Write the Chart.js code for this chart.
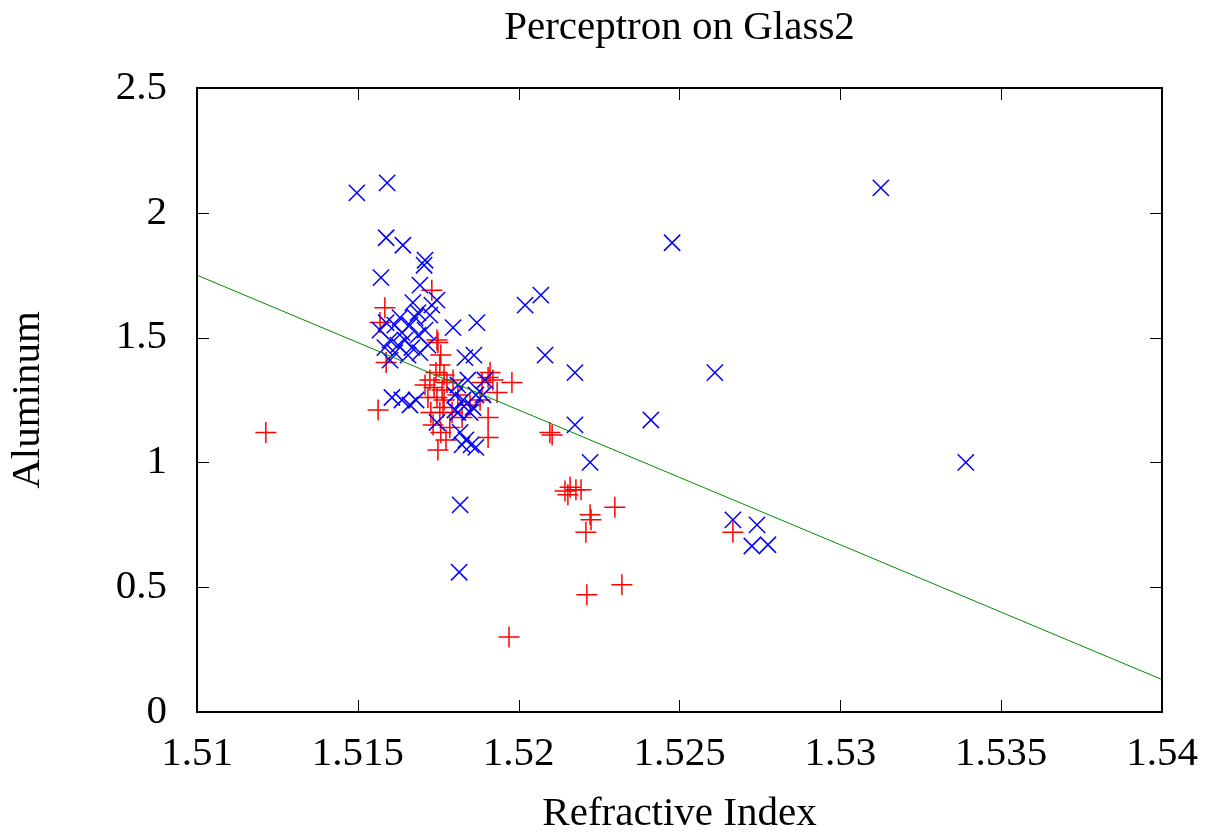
<!DOCTYPE html>
<html>
<head>
<meta charset="utf-8">
<style>
  html, body { margin: 0; padding: 0; background: #ffffff; }
  #wrap { width: 1211px; height: 833px; }
</style>
<script src="https://cdn.jsdelivr.net/npm/chart.js@4/dist/chart.umd.min.js"></script>
</head>
<body>
<div id="wrap"><canvas id="c" width="1211" height="833"></canvas></div>
<script>
// ---- Data ----
const chartTitle = 'Perceptron on Glass2';
const xAxisTitle = 'Refractive Index';
const yAxisTitle = 'Aluminum';

const xTickValues = [1.51, 1.515, 1.52, 1.525, 1.53, 1.535, 1.54];
const xTickLabels = ['1.51', '1.515', '1.52', '1.525', '1.53', '1.535', '1.54'];
const yTickValues = [0, 0.5, 1, 1.5, 2, 2.5];
const yTickLabels = ['0', '0.5', '1', '1.5', '2', '2.5'];

// Blue "x" class
const blueX = [
  1.51497, 1.51591, 1.51588, 1.51640, 1.51709, 1.51706, 1.51572, 1.51693, 1.51671, 1.51730,
  1.51687, 1.52020, 1.52069, 1.52082, 1.52175, 1.52175, 1.52222, 1.52477, 1.52411, 1.52610,
  1.52666, 1.52741, 1.52725, 1.52775, 1.53126, 1.53390, 1.51818, 1.51815, 1.51796, 1.51870,
  1.51833, 1.51861, 1.51606, 1.51637, 1.51662, 1.51681,
  1.51569, 1.51588, 1.51600, 1.51615, 1.51625, 1.51637, 1.51647, 1.51662, 1.51668, 1.51687,
  1.51709, 1.51615, 1.51584, 1.51656, 1.51693, 1.51724, 1.51746, 1.51631, 1.51678, 1.51718,
  1.51600,
  1.51811, 1.51842, 1.51867, 1.51827, 1.51802, 1.51849, 1.51818, 1.51836, 1.51852, 1.51824,
  1.51867, 1.51889, 1.51802, 1.51895, 1.51746, 1.51811, 1.51858
];
const blueY = [
  2.08, 2.12, 1.90, 1.87, 1.81, 1.79, 1.74, 1.71, 1.64, 1.63,
  1.60, 1.63, 1.67, 1.43, 1.36, 1.15, 1.00, 1.88, 1.17, 1.36,
  0.77, 0.75, 0.665, 0.67, 2.10, 1.00, 0.83, 0.56, 1.54, 1.56,
  1.42, 1.43, 1.26, 1.25, 1.23, 1.25,
  1.53, 1.56, 1.49, 1.55, 1.47, 1.52, 1.49, 1.55, 1.46, 1.51,
  1.53, 1.44, 1.46, 1.43, 1.44, 1.59, 1.65, 1.58, 1.58, 1.47,
  1.41,
  1.31, 1.33, 1.27, 1.25, 1.21, 1.20, 1.12, 1.09, 1.07, 1.07,
  1.06, 1.27, 1.27, 1.33, 1.16, 1.20, 1.22
];

// Red "+" class
const redX = [
  1.51214, 1.51563, 1.51588, 1.51569, 1.51584, 1.51730, 1.51746, 1.51970, 1.51979, 1.51911,
  1.51920, 1.51933, 1.51880, 1.51905, 1.51905, 1.52097, 1.52104, 1.52144, 1.52160, 1.52178,
  1.52153, 1.52194, 1.52222, 1.52225, 1.52209, 1.52299, 1.52212, 1.52321, 1.52666,
  1.51749, 1.51758, 1.51755, 1.51743, 1.51768, 1.51724, 1.51777, 1.51737, 1.51762, 1.51796,
  1.51746, 1.51768, 1.51718, 1.51765, 1.51727, 1.51755, 1.51793, 1.51734, 1.51786, 1.51758,
  1.51749, 1.51774, 1.51709, 1.51811, 1.51824, 1.51849, 1.51886, 1.51905
];
const redY = [
  1.12, 1.21, 1.40, 1.56, 1.62, 1.69, 1.49, 0.30, 1.32, 1.36,
  1.33, 1.28, 1.25, 1.18, 1.10, 1.12, 1.11, 0.885, 0.90, 0.89,
  0.87, 0.89, 0.79, 0.77, 0.72, 0.82, 0.47, 0.51, 0.72,
  1.48, 1.43, 1.39, 1.36, 1.35, 1.33, 1.32, 1.30, 1.29, 1.33,
  1.26, 1.25, 1.26, 1.22, 1.20, 1.20, 1.20, 1.15, 1.14, 1.12,
  1.05, 1.09, 1.31, 1.27, 1.18, 1.23, 1.32, 1.34
];

// Separating line of the perceptron
const lineX = [1.51, 1.54];
const lineY = [1.75, 0.13];

// ---- Build chart ----
const toPoints = (xs, ys) => xs.map((x, i) => ({ x: x, y: ys[i] }));
const FONT = 'Liberation Serif';

const framePlugin = {
  id: 'gnuplotFrame',
  afterDraw(chart) {
    const { ctx, chartArea: a, scales } = chart;
    const tick = 12;
    ctx.save();
    ctx.strokeStyle = '#000000';
    ctx.lineWidth = 1;
    ctx.beginPath();
    scales.x.ticks.forEach(t => {
      if (t.value <= xTickValues[0] || t.value >= xTickValues[xTickValues.length - 1]) return;
      const px = Math.round(scales.x.getPixelForValue(t.value)) + 0.5;
      ctx.moveTo(px, a.bottom); ctx.lineTo(px, a.bottom - tick);
      ctx.moveTo(px, a.top); ctx.lineTo(px, a.top + tick);
    });
    scales.y.ticks.forEach(t => {
      if (t.value <= yTickValues[0] || t.value >= yTickValues[yTickValues.length - 1]) return;
      const py = Math.round(scales.y.getPixelForValue(t.value)) + 0.5;
      ctx.moveTo(a.left, py); ctx.lineTo(a.left + tick, py);
      ctx.moveTo(a.right, py); ctx.lineTo(a.right - tick, py);
    });
    ctx.stroke();
    ctx.lineWidth = 2;
    ctx.strokeRect(a.left, a.top, a.right - a.left, a.bottom - a.top);
    ctx.restore();
  }
};

new Chart(document.getElementById('c'), {
  type: 'scatter',
  data: {
    datasets: [
      {
        label: 'Perceptron',
        type: 'line',
        data: toPoints(lineX, lineY),
        borderColor: 'rgb(0,140,0)',
        borderWidth: 1,
        pointRadius: 0,
        fill: false,
        tension: 0,
        order: 0
      },
      {
        label: 'class 2',
        data: toPoints(blueX, blueY),
        pointStyle: 'crossRot',
        pointRadius: 11.5,
        borderColor: 'rgb(0,0,255)',
        backgroundColor: 'rgb(0,0,255)',
        pointBorderWidth: 1.5,
        order: 1
      },
      {
        label: 'class 1',
        data: toPoints(redX, redY),
        pointStyle: 'cross',
        pointRadius: 10.5,
        borderColor: 'rgb(255,0,0)',
        backgroundColor: 'rgb(255,0,0)',
        pointBorderWidth: 1.5,
        order: 2
      }
    ]
  },
  options: {
    responsive: false,
    animation: false,
    events: [],
    layout: { padding: { left: 0, right: 49, top: 0, bottom: 0 } },
    plugins: {
      legend: { display: false },
      tooltip: { enabled: false },
      title: {
        display: true,
        fullSize: false,
        text: chartTitle,
        color: '#000000',
        font: { family: FONT, size: 41, weight: 'normal', lineHeight: 1 },
        padding: { top: 8, bottom: 39 }
      }
    },
    scales: {
      x: {
        type: 'linear',
        min: xTickValues[0],
        max: xTickValues[xTickValues.length - 1],
        afterBuildTicks: s => { s.ticks = xTickValues.map(v => ({ value: v })); },
        afterFit: s => { s.height = 121; s.paddingLeft = 0; s.paddingRight = 0; },
        grid: { display: false, drawTicks: false },
        border: { display: false },
        ticks: {
          color: '#000000',
          padding: 22,
          maxRotation: 0,
          autoSkip: false,
          font: { family: FONT, size: 41, lineHeight: 1 },
          callback: (v, i) => xTickLabels[i]
        },
        title: {
          display: true,
          text: xAxisTitle,
          color: '#000000',
          font: { family: FONT, size: 41, lineHeight: 0.9 },
          padding: { top: 0, bottom: 0 }
        }
      },
      y: {
        type: 'linear',
        min: yTickValues[0],
        max: yTickValues[yTickValues.length - 1],
        afterBuildTicks: s => { s.ticks = yTickValues.map(v => ({ value: v })); },
        afterFit: s => { s.width = 197; s.paddingTop = 0; s.paddingBottom = 0; },
        grid: { display: false, drawTicks: false },
        border: { display: false },
        ticks: {
          color: '#000000',
          padding: 30,
          autoSkip: false,
          font: { family: FONT, size: 41, lineHeight: 1 },
          callback: (v, i) => yTickLabels[i]
        },
        title: {
          display: true,
          text: yAxisTitle,
          color: '#000000',
          font: { family: FONT, size: 41, lineHeight: 1 },
          padding: { top: 8, bottom: 0 }
        }
      }
    }
  },
  plugins: [framePlugin]
});
</script>
</body>
</html>
